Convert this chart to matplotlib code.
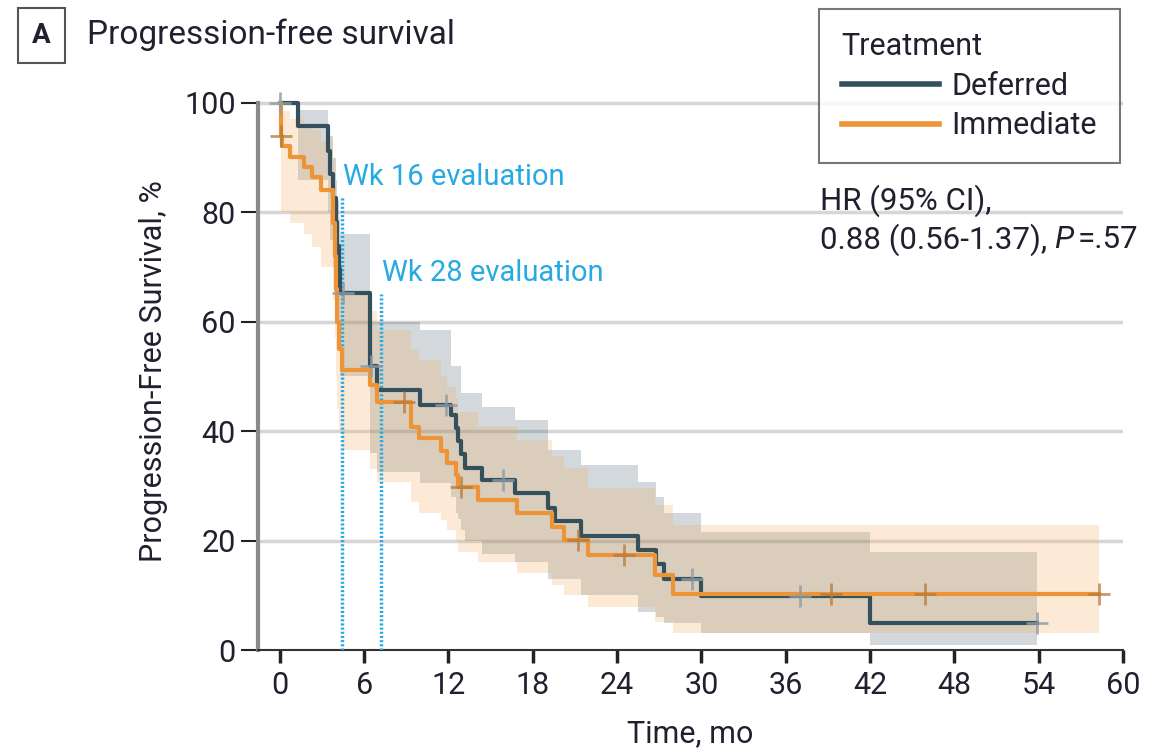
import matplotlib
matplotlib.use("Agg")
import matplotlib.pyplot as plt
from matplotlib import font_manager
from matplotlib.lines import Line2D

# Kaplan-Meier step estimates, time in months, survival in %
deferred_t = [0, 1.3, 3.4, 3.6, 3.8, 4.0, 4.1, 4.2, 4.3, 6.4, 6.9, 10.0, 12.2, 12.5,
              12.7, 12.9, 13.2, 14.4, 16.7, 19.1, 19.6, 21.4, 25.5, 26.8, 27.3, 30.0, 42.0]
deferred_s = [100, 95.7, 91.3, 87.0, 82.6, 78.3, 73.9, 69.6, 65.2, 52.0, 47.5, 44.8, 43.0, 40.5,
              38.2, 35.8, 33.3, 31.0, 28.7, 26.0, 23.5, 20.8, 18.3, 15.7, 13.0, 9.8, 4.9]
deferred_hi = [100, 98.7, 96, 94, 90, 86, 82, 79, 76, 60, 60, 58.5, 52, 52,
               52, 47, 47, 44.5, 42, 36.6, 36.6, 33.8, 30.8, 28, 25, 21.6, 18]
deferred_lo = [100, 86, 80, 75, 70, 64, 59, 55, 50, 36, 32.5, 30.5, 28, 25,
               24, 22, 20, 17.5, 16, 13, 13, 10, 7, 6, 5, 3.1, 1]
deferred_end = 53.9
deferred_cens_t = [0.0, 4.5, 6.5, 11.8, 15.9, 29.3, 37.0, 53.9]
deferred_cens_s = [100, 65.2, 52.0, 44.8, 31.0, 13.0, 9.8, 4.9]

immediate_t = [0, 0.05, 0.15, 0.7, 1.7, 2.3, 2.9, 3.8, 3.9, 4.0, 4.1, 4.2, 4.4, 6.4,
               6.9, 9.3, 9.9, 11.5, 11.9, 12.5, 12.7, 14.1, 16.9, 19.4, 20.2, 21.9, 26.7, 28.0]
immediate_s = [100, 94.0, 92.1, 90.2, 88.3, 86.4, 84.0, 78, 72, 66, 60, 55, 51.2, 48.5,
               45.3, 40.8, 38.8, 36.4, 34.2, 32.0, 29.8, 27.4, 25.0, 22.5, 20.1, 17.4, 13.7, 10.2]
immediate_hi = [100, 98.5, 98.5, 97, 96, 95, 93, 90, 85, 79, 74, 69, 65, 62,
                58.5, 55, 53, 50, 48, 46, 43.5, 41, 38.4, 35.4, 33.2, 29.6, 26.5, 22.9]
immediate_lo = [100, 80, 80, 78, 76, 73.7, 70, 64, 57, 50, 44, 40, 36.6, 33,
                30.8, 27, 25, 23.8, 22, 20, 18, 16, 14, 11.9, 10, 7.9, 5.2, 3.1]
immediate_end = 58.3
immediate_cens_t = [0.1, 8.8, 12.9, 21.2, 24.5, 39.2, 45.9, 58.3]
immediate_cens_s = [94.0, 45.3, 29.8, 20.1, 17.4, 10.2, 10.2, 10.2]

eval_weeks = ["Wk 16 evaluation", "Wk 28 evaluation"]
eval_x = [4.4, 7.2]
eval_top = [83, 65]

x_ticks = list(range(0, 61, 6))
y_ticks = [0, 20, 40, 60, 80, 100]

installed = {f.name for f in font_manager.fontManager.ttflist}
base_font = "DejaVu Sans"
for fam in ["Liberation Sans Narrow", "Roboto", "Noto Sans"]:
    if fam in installed:
        base_font = fam
        break
plt.rcParams["font.family"] = base_font

ink = "#221f2e"
dark = "#33505c"
orange = "#ec9436"
cyan = "#27a9e1"

fig = plt.figure(figsize=(11.66, 7.5), dpi=100)
ax = fig.add_axes([0.2213, 0.1333, 0.7419, 0.744])
ax.set_xlim(-1.55, 60)
ax.set_ylim(0, 102)

for y in y_ticks[1:]:
    ax.axhline(y, color="#d6d6d6", lw=2.5, zorder=0)


def ext(vals):
    return list(vals) + [vals[-1]]


# confidence bands
ax.fill_between(deferred_t + [deferred_end], ext(deferred_lo), ext(deferred_hi),
                step="post", color=dark, alpha=0.22, lw=0, zorder=1)
ax.fill_between(immediate_t + [immediate_end], ext(immediate_lo), ext(immediate_hi),
                step="post", color="#f7af5f", alpha=0.25, lw=0, zorder=2)

# evaluation markers
for x, top in zip(eval_x, eval_top):
    ax.plot([x, x], [0, top], color=cyan, lw=2.5, ls=(0, (0.6, 0.6)), zorder=3)
ax.text(eval_x[0] + 0.1, 86.5, eval_weeks[0], color=cyan, fontsize=21, va="center")
ax.text(eval_x[1] + 0.1, 69.0, eval_weeks[1], color=cyan, fontsize=21, va="center")

# survival curves
ax.step(deferred_t + [deferred_end], ext(deferred_s), where="post",
        color=dark, lw=3, zorder=4, clip_on=False)
ax.step(immediate_t + [immediate_end], ext(immediate_s), where="post",
        color=orange, lw=3, zorder=5, clip_on=False)
ax.plot(deferred_cens_t, deferred_cens_s, ls="none", marker="+", ms=16, mew=2,
        color="#8e9ca5", alpha=0.8, zorder=6, clip_on=False)
ax.plot(immediate_cens_t, immediate_cens_s, ls="none", marker="+", ms=16, mew=2,
        color="#b27a3c", alpha=0.75, zorder=6, clip_on=False)

# axes styling
for side in ["top", "right"]:
    ax.spines[side].set_visible(False)
ax.spines["left"].set_bounds(0, 100)
ax.spines["left"].set_color("#8a8a8a")
ax.spines["left"].set_linewidth(3)
ax.spines["bottom"].set_color("#333333")
ax.spines["bottom"].set_linewidth(1.5)
ax.set_xticks(x_ticks)
ax.set_yticks(y_ticks)
ax.tick_params(axis="x", length=9, width=2.5, color="#222222", labelsize=22,
               labelcolor=ink, pad=6)
ax.tick_params(axis="y", length=12, width=1.5, color="#222222", labelsize=22,
               labelcolor=ink, pad=4)
ax.set_xlabel("Time, mo", fontsize=22, color=ink, labelpad=14)
ax.set_ylabel("Progression-Free Survival, %", fontsize=22, color=ink, labelpad=12)

# panel title
fig.text(0.0355, 0.953, "A", fontsize=20, fontweight="bold", color=ink,
         va="center", ha="center",
         bbox=dict(boxstyle="square,pad=0.5", fc="white", ec="#555555", lw=1.5))
fig.text(0.0746, 0.953, "Progression-free survival", fontsize=24, color=ink, va="center")

# legend
handles = [Line2D([], [], color=dark, lw=4), Line2D([], [], color=orange, lw=4)]
leg = fig.legend(handles, ["Deferred", "Immediate"], title="Treatment",
                 loc="upper right", bbox_to_anchor=(0.9605, 0.988), borderaxespad=0,
                 fontsize=22, title_fontsize=22, frameon=True, fancybox=False,
                 handlelength=3.2, handletextpad=0.4, labelspacing=0.35, borderpad=0.75,
                 alignment="left")
leg.get_frame().set_edgecolor("#555555")
leg.get_frame().set_linewidth(1.5)
for t in leg.get_texts():
    t.set_color(ink)
leg.get_title().set_color(ink)

# hazard ratio annotation
fig.text(0.703, 0.733, "HR (95% CI),", fontsize=22.5, color=ink, va="center")
hr = fig.text(0.703, 0.68, "0.88 (0.56-1.37), ", fontsize=22.5, color=ink, va="center")
fig.canvas.draw()
bb = hr.get_window_extent().transformed(fig.transFigure.inverted())
p = fig.text(bb.x1, 0.68, "P", fontsize=22.5, color=ink, va="center", style="italic")
fig.canvas.draw()
bb = p.get_window_extent().transformed(fig.transFigure.inverted())
fig.text(bb.x1 + 0.003, 0.68, "=.57", fontsize=22.5, color=ink, va="center")

fig.savefig("out.png", dpi=100)
